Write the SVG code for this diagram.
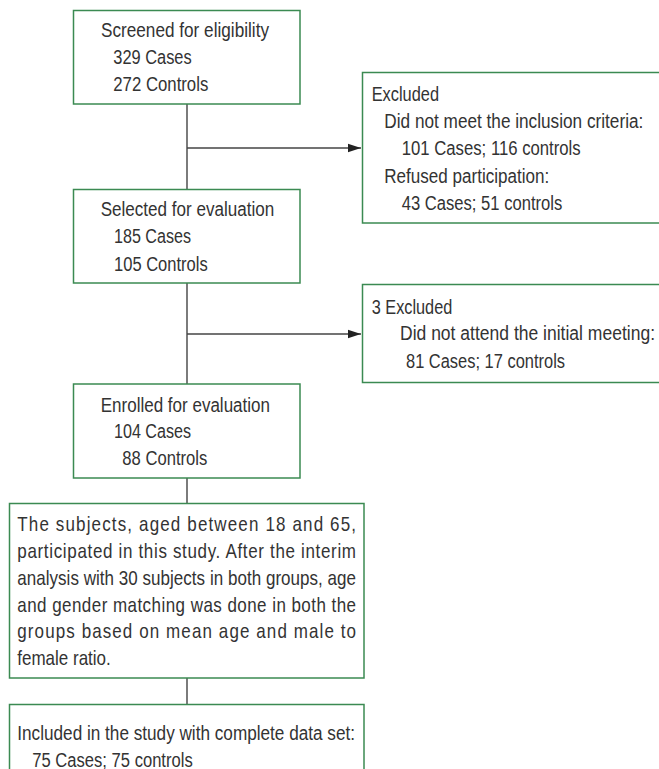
<svg xmlns="http://www.w3.org/2000/svg" width="659" height="769" viewBox="0 0 659 769">
<defs>
<style>
.box{fill:#fff;stroke:#3b8a52;stroke-width:1.5}
.t{font-family:"Liberation Sans",Arial,sans-serif;font-size:20px;fill:#333}
.c{stroke:#444;stroke-width:1.4;fill:none}
</style>
<marker id="ah" markerWidth="13" markerHeight="10" refX="13" refY="5" orient="auto" markerUnits="userSpaceOnUse">
<path d="M0,0.8 L13,5 L0,9.2 Z" fill="#222"/>
</marker>
</defs>
<rect width="659" height="769" fill="#fff"/>
<g id="connectors">
<path class="c" d="M187,104 V190"/>
<path class="c" d="M187,148 H361" marker-end="url(#ah)"/>
<path class="c" d="M187,283 V384"/>
<path class="c" d="M187,334 H361" marker-end="url(#ah)"/>
<path class="c" d="M187,478 V503"/>
<path class="c" d="M187,678 V704"/>
</g>
<g id="screened">
<rect class="box" x="73.5" y="10.5" width="226.5" height="93.5"/>
<text class="t" x="101" y="37.3" textLength="168" lengthAdjust="spacingAndGlyphs">Screened for eligibility</text>
<text class="t" x="113.3" y="64.3" textLength="78.4" lengthAdjust="spacingAndGlyphs">329 Cases</text>
<text class="t" x="113.3" y="91" textLength="95" lengthAdjust="spacingAndGlyphs">272 Controls</text>
</g>
<g id="excluded1">
<rect class="box" x="362.5" y="72.5" width="310" height="150.5"/>
<text class="t" x="371.7" y="101" textLength="67.3" lengthAdjust="spacingAndGlyphs">Excluded</text>
<text class="t" x="384.3" y="127.7" textLength="259" lengthAdjust="spacingAndGlyphs">Did not meet the inclusion criteria:</text>
<text class="t" x="401.7" y="155" textLength="179" lengthAdjust="spacingAndGlyphs">101 Cases; 116 controls</text>
<text class="t" x="384.3" y="182.7" textLength="165" lengthAdjust="spacingAndGlyphs">Refused participation:</text>
<text class="t" x="401.7" y="210" textLength="160.6" lengthAdjust="spacingAndGlyphs">43 Cases; 51 controls</text>
</g>
<g id="selected">
<rect class="box" x="73.5" y="189.5" width="226.5" height="93.5"/>
<text class="t" x="100.7" y="216" textLength="173.6" lengthAdjust="spacingAndGlyphs">Selected for evaluation</text>
<text class="t" x="114" y="243.3" textLength="77" lengthAdjust="spacingAndGlyphs">185 Cases</text>
<text class="t" x="114" y="270.7" textLength="93.7" lengthAdjust="spacingAndGlyphs">105 Controls</text>
</g>
<g id="excluded2">
<rect class="box" x="362.5" y="284.5" width="310" height="98"/>
<text class="t" x="371.7" y="314" textLength="80.6" lengthAdjust="spacingAndGlyphs">3 Excluded</text>
<text class="t" x="400" y="340" textLength="255" lengthAdjust="spacingAndGlyphs">Did not attend the initial meeting:</text>
<text class="t" x="406" y="368" textLength="159" lengthAdjust="spacingAndGlyphs">81 Cases; 17 controls</text>
</g>
<g id="enrolled">
<rect class="box" x="73.5" y="384" width="226.5" height="94"/>
<text class="t" x="100.7" y="411.7" textLength="169.3" lengthAdjust="spacingAndGlyphs">Enrolled for evaluation</text>
<text class="t" x="114" y="438.3" textLength="77" lengthAdjust="spacingAndGlyphs">104 Cases</text>
<text class="t" x="122.3" y="465" textLength="85" lengthAdjust="spacingAndGlyphs">88 Controls</text>
</g>
<g id="subjects">
<rect class="box" x="9.5" y="503.5" width="354.5" height="174.5"/>
<g transform="scale(0.85,1)">
<text class="t" x="20.35" y="530.7" textLength="398.5" lengthAdjust="spacing">The subjects, aged between 18 and 65,</text>
<text class="t" x="20.35" y="558.3" textLength="398.5" lengthAdjust="spacing">participated in this study. After the interim</text>
<text class="t" x="20.35" y="585" textLength="398.5" lengthAdjust="spacing">analysis with 30 subjects in both groups, age</text>
<text class="t" x="20.35" y="611.7" textLength="398.5" lengthAdjust="spacing">and gender matching was done in both the</text>
<text class="t" x="20.35" y="638.3" textLength="398.5" lengthAdjust="spacing">groups based on mean age and male to</text>
<text class="t" x="20.35" y="665">female ratio.</text>
</g>
</g>
<g id="included">
<rect class="box" x="9.5" y="704.5" width="354.5" height="80"/>
<text class="t" x="17.3" y="740" textLength="337.7" lengthAdjust="spacingAndGlyphs">Included in the study with complete data set:</text>
<text class="t" x="32.3" y="766.7" textLength="160.4" lengthAdjust="spacingAndGlyphs">75 Cases; 75 controls</text>
</g>
</svg>
